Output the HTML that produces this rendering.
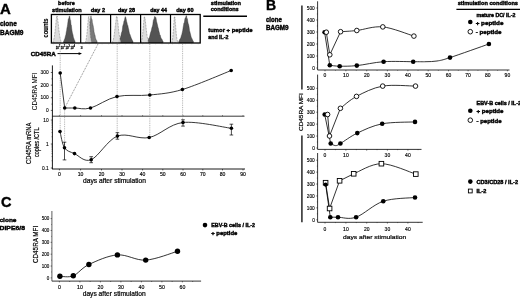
<!DOCTYPE html>
<html><head><meta charset="utf-8"><style>
html,body{margin:0;padding:0;background:#fff;}
svg{display:block;font-family:"Liberation Sans", sans-serif;filter:grayscale(1);}
</style></head><body>
<svg width="520" height="298" viewBox="0 0 520 298" font-family='"Liberation Sans", sans-serif'>
<rect width="520" height="298" fill="#fff"/>
<text x="0.00" y="14.00" font-size="15.2" font-weight="bold" textLength="10.80" lengthAdjust="spacingAndGlyphs" fill="#000" stroke="#000" stroke-width="0.4">A</text>
<text x="0.00" y="26.20" font-size="6.5" font-weight="bold" textLength="16.80" lengthAdjust="spacingAndGlyphs" fill="#000" stroke="#000" stroke-width="0.4">clone</text>
<text x="0.00" y="34.60" font-size="6.5" font-weight="bold" textLength="23.50" lengthAdjust="spacingAndGlyphs" fill="#000" stroke="#000" stroke-width="0.4">BAGM9</text>
<text x="48.20" y="37.40" font-size="7.2" font-weight="bold" textLength="19.00" lengthAdjust="spacingAndGlyphs" transform="rotate(-90 48.20 37.40)" fill="#000" stroke="#000" stroke-width="0.15">counts</text>
<text x="58.10" y="5.40" font-size="6.0" font-weight="bold" textLength="16.70" lengthAdjust="spacingAndGlyphs" fill="#000" stroke="#000" stroke-width="0.4">before</text>
<text x="52.10" y="11.90" font-size="6.0" font-weight="bold" textLength="29.60" lengthAdjust="spacingAndGlyphs" fill="#000" stroke="#000" stroke-width="0.4">stimulation</text>
<text x="90.80" y="11.70" font-size="5.6" font-weight="bold" textLength="14.20" lengthAdjust="spacingAndGlyphs" fill="#000" stroke="#000" stroke-width="0.4">day 2</text>
<text x="118.00" y="11.70" font-size="5.6" font-weight="bold" textLength="17.00" lengthAdjust="spacingAndGlyphs" fill="#000" stroke="#000" stroke-width="0.4">day 28</text>
<text x="150.30" y="11.70" font-size="5.6" font-weight="bold" textLength="16.60" lengthAdjust="spacingAndGlyphs" fill="#000" stroke="#000" stroke-width="0.4">day 44</text>
<text x="176.20" y="11.70" font-size="5.6" font-weight="bold" textLength="17.40" lengthAdjust="spacingAndGlyphs" fill="#000" stroke="#000" stroke-width="0.4">day 60</text>
<text x="210.80" y="4.60" font-size="6.0" font-weight="bold" textLength="30.20" lengthAdjust="spacingAndGlyphs" fill="#000" stroke="#000" stroke-width="0.4">stimulation</text>
<text x="210.80" y="11.40" font-size="6.0" font-weight="bold" textLength="27.90" lengthAdjust="spacingAndGlyphs" fill="#000" stroke="#000" stroke-width="0.4">conditions</text>
<line x1="203.30" y1="16.30" x2="247.00" y2="16.30" stroke="#000" stroke-width="1.4"/>
<text x="208.30" y="32.40" font-size="6.0" font-weight="bold" textLength="44.30" lengthAdjust="spacingAndGlyphs" fill="#000" stroke="#000" stroke-width="0.4">tumor + peptide</text>
<text x="208.30" y="38.90" font-size="6.0" font-weight="bold" textLength="20.20" lengthAdjust="spacingAndGlyphs" fill="#000" stroke="#000" stroke-width="0.4">and IL-2</text>
<clipPath id="hc0"><rect x="51.40" y="14.5" width="29.30" height="28.5"/></clipPath>
<g clip-path="url(#hc0)">
<path d="M63.58,43.00 L63.58,41.15 L63.92,40.72 L64.25,40.19 L64.59,38.86 L64.93,38.47 L65.26,36.72 L65.60,35.54 L65.94,34.42 L66.27,31.94 L66.61,30.84 L66.94,28.04 L67.28,26.67 L67.62,24.53 L67.95,21.73 L68.29,18.88 L68.63,19.06 L68.96,17.70 L69.30,16.17 L69.64,15.84 L69.97,17.92 L70.31,19.93 L70.65,20.44 L70.98,24.62 L71.32,25.01 L71.66,28.33 L71.99,30.64 L72.33,32.59 L72.66,34.04 L73.00,34.91 L73.34,37.17 L73.67,37.89 L74.01,38.88 L74.35,39.99 L74.68,40.54 L75.02,41.15 L75.02,43.00 Z" stroke="#333" stroke-width="0.4" fill="#545454"/>
<path d="M53.23,43.00 L53.23,41.11 L53.42,40.79 L53.62,40.21 L53.81,39.43 L54.01,38.32 L54.20,37.47 L54.40,36.40 L54.59,34.90 L54.79,33.55 L54.98,32.08 L55.18,29.89 L55.38,28.13 L55.57,26.71 L55.77,24.40 L55.96,22.55 L56.16,20.29 L56.35,18.82 L56.55,18.01 L56.74,15.99 L56.94,16.59 L57.13,16.29 L57.33,16.51 L57.52,18.39 L57.71,19.28 L57.91,21.41 L58.10,22.32 L58.30,24.00 L58.49,26.03 L58.69,27.52 L58.88,29.83 L59.08,31.12 L59.27,32.77 L59.47,34.22 L59.66,35.61 L59.86,36.50 L60.05,37.48 L60.25,38.67 L60.45,39.35 L60.64,40.29 L60.84,40.56 L61.03,41.11 L61.03,43.00 Z" stroke="#444" stroke-width="0.6" fill="#d8d8d8" fill-opacity="0.9" stroke-dasharray="0.6,0.9"/>
</g>
<clipPath id="hc1"><rect x="80.70" y="14.5" width="29.90" height="28.5"/></clipPath>
<g clip-path="url(#hc1)">
<path d="M87.68,43.00 L87.68,41.14 L87.96,40.10 L88.23,38.49 L88.51,36.97 L88.78,35.59 L89.06,32.97 L89.33,29.59 L89.61,27.69 L89.88,23.55 L90.16,21.21 L90.43,18.89 L90.71,17.59 L90.98,15.75 L91.26,17.98 L91.53,18.56 L91.81,19.35 L92.08,19.53 L92.36,22.87 L92.64,23.58 L92.91,24.98 L93.19,25.94 L93.46,27.72 L93.74,29.23 L94.01,31.77 L94.29,32.93 L94.56,34.31 L94.84,34.76 L95.11,35.79 L95.39,37.77 L95.66,38.58 L95.94,39.26 L96.21,39.90 L96.49,40.24 L96.76,40.65 L97.04,41.14 L97.04,43.00 Z" stroke="#333" stroke-width="0.4" fill="#7a7a7a"/>
<path d="M85.68,43.00 L85.68,41.11 L85.82,40.76 L85.97,40.37 L86.11,39.57 L86.25,38.88 L86.39,37.95 L86.54,36.75 L86.68,35.86 L86.82,34.80 L86.97,33.41 L87.11,31.94 L87.25,31.00 L87.40,28.56 L87.54,26.99 L87.68,25.16 L87.82,23.51 L87.97,22.31 L88.11,20.70 L88.25,19.63 L88.40,17.65 L88.54,17.42 L88.68,16.73 L88.83,16.33 L88.97,16.96 L89.11,17.83 L89.25,19.70 L89.40,21.52 L89.54,23.26 L89.68,25.34 L89.83,27.10 L89.97,29.44 L90.11,30.54 L90.26,32.58 L90.40,34.58 L90.54,35.94 L90.68,37.15 L90.83,38.24 L90.97,39.31 L91.11,39.74 L91.26,40.36 L91.40,41.11 L91.40,43.00 Z" stroke="#444" stroke-width="0.6" fill="#d8d8d8" fill-opacity="0.9" stroke-dasharray="0.6,0.9"/>
</g>
<clipPath id="hc2"><rect x="110.60" y="14.5" width="30.00" height="28.5"/></clipPath>
<g clip-path="url(#hc2)">
<path d="M118.44,43.00 L118.44,41.24 L118.87,40.68 L119.30,39.93 L119.72,39.43 L120.15,38.36 L120.58,36.78 L121.01,35.39 L121.44,32.77 L121.87,31.96 L122.29,30.19 L122.72,26.15 L123.15,24.82 L123.58,23.58 L124.01,20.72 L124.44,20.43 L124.86,18.08 L125.29,16.58 L125.72,17.45 L126.15,18.93 L126.58,21.41 L127.00,22.79 L127.43,25.04 L127.86,25.62 L128.29,28.05 L128.72,29.46 L129.15,32.06 L129.57,33.87 L130.00,34.47 L130.43,35.64 L130.86,37.05 L131.29,38.17 L131.72,39.07 L132.14,39.92 L132.57,40.95 L133.00,41.24 L133.00,43.00 Z" stroke="#333" stroke-width="0.4" fill="#545454"/>
<path d="M112.64,43.00 L112.64,41.14 L112.84,40.67 L113.04,40.20 L113.24,39.72 L113.45,38.98 L113.65,37.97 L113.85,36.98 L114.05,35.53 L114.25,34.03 L114.45,33.03 L114.66,31.06 L114.86,29.35 L115.06,27.63 L115.26,26.49 L115.46,24.88 L115.66,23.13 L115.86,21.51 L116.07,19.98 L116.27,18.11 L116.47,16.68 L116.67,16.09 L116.87,16.49 L117.07,16.85 L117.27,17.71 L117.48,20.05 L117.68,20.92 L117.88,22.42 L118.08,24.47 L118.28,26.42 L118.48,28.60 L118.69,30.69 L118.89,31.83 L119.09,33.80 L119.29,34.87 L119.49,36.05 L119.69,37.57 L119.89,38.55 L120.10,39.10 L120.30,39.95 L120.50,40.79 L120.70,41.14 L120.70,43.00 Z" stroke="#444" stroke-width="0.6" fill="#d8d8d8" fill-opacity="0.9" stroke-dasharray="0.6,0.9"/>
</g>
<clipPath id="hc3"><rect x="140.60" y="14.5" width="29.90" height="28.5"/></clipPath>
<g clip-path="url(#hc3)">
<path d="M147.20,43.00 L147.20,41.20 L147.67,40.93 L148.13,40.25 L148.60,38.67 L149.07,37.69 L149.53,37.27 L150.00,34.94 L150.47,33.05 L150.93,31.73 L151.40,30.32 L151.86,27.87 L152.33,26.62 L152.80,24.81 L153.26,20.59 L153.73,19.54 L154.20,18.39 L154.66,16.36 L155.13,17.42 L155.60,16.96 L156.06,18.29 L156.53,21.39 L157.00,23.10 L157.46,24.98 L157.93,27.13 L158.40,28.48 L158.86,31.06 L159.33,32.61 L159.79,34.73 L160.26,35.13 L160.73,37.22 L161.19,38.23 L161.66,39.08 L162.13,39.62 L162.59,40.72 L163.06,41.20 L163.06,43.00 Z" stroke="#333" stroke-width="0.4" fill="#545454"/>
<path d="M141.38,43.00 L141.38,41.16 L141.56,40.44 L141.73,39.95 L141.91,39.14 L142.08,38.18 L142.26,37.39 L142.43,35.81 L142.61,34.54 L142.78,33.07 L142.96,30.54 L143.13,29.22 L143.31,26.89 L143.49,24.55 L143.66,22.72 L143.84,21.11 L144.01,19.17 L144.19,17.74 L144.36,16.50 L144.54,17.17 L144.71,16.95 L144.89,18.16 L145.07,19.19 L145.24,19.82 L145.42,21.61 L145.59,23.11 L145.77,24.51 L145.94,26.00 L146.12,28.15 L146.29,29.57 L146.47,31.19 L146.65,32.62 L146.82,33.81 L147.00,35.23 L147.17,36.29 L147.35,37.32 L147.52,37.93 L147.70,38.87 L147.87,39.46 L148.05,40.04 L148.22,40.83 L148.40,41.16 L148.40,43.00 Z" stroke="#444" stroke-width="0.6" fill="#d8d8d8" fill-opacity="0.9" stroke-dasharray="0.6,0.9"/>
</g>
<clipPath id="hc4"><rect x="170.50" y="14.5" width="29.70" height="28.5"/></clipPath>
<g clip-path="url(#hc4)">
<path d="M178.82,43.00 L178.82,41.16 L179.25,40.54 L179.68,39.49 L180.10,38.69 L180.53,38.41 L180.96,37.27 L181.39,35.46 L181.82,34.43 L182.25,32.43 L182.67,30.82 L183.10,27.64 L183.53,25.23 L183.96,22.81 L184.39,22.44 L184.82,19.24 L185.24,17.81 L185.67,18.01 L186.10,15.60 L186.53,15.88 L186.96,18.92 L187.38,18.67 L187.81,21.87 L188.24,23.72 L188.67,24.80 L189.10,27.32 L189.53,30.66 L189.95,32.11 L190.38,33.75 L190.81,35.60 L191.24,37.17 L191.67,38.21 L192.10,38.81 L192.52,40.32 L192.95,40.55 L193.38,41.16 L193.38,43.00 Z" stroke="#333" stroke-width="0.4" fill="#545454"/>
<path d="M172.00,43.00 L172.00,41.15 L172.14,40.67 L172.27,40.27 L172.41,39.40 L172.55,38.38 L172.68,37.44 L172.82,36.59 L172.96,34.60 L173.09,33.26 L173.23,31.46 L173.37,30.53 L173.50,28.55 L173.64,26.90 L173.77,24.14 L173.91,22.86 L174.05,21.27 L174.18,19.31 L174.32,17.33 L174.46,16.49 L174.59,16.84 L174.73,17.30 L174.87,17.01 L175.00,18.60 L175.14,19.79 L175.28,22.11 L175.41,23.79 L175.55,24.77 L175.69,26.82 L175.82,28.91 L175.96,29.72 L176.09,31.61 L176.23,32.96 L176.37,34.91 L176.50,35.57 L176.64,37.23 L176.78,37.70 L176.91,38.81 L177.05,39.60 L177.19,40.14 L177.32,40.52 L177.46,41.15 L177.46,43.00 Z" stroke="#444" stroke-width="0.6" fill="#d8d8d8" fill-opacity="0.9" stroke-dasharray="0.6,0.9"/>
</g>
<rect x="51.40" y="14.5" width="148.80" height="28.5" fill="none" stroke="#000" stroke-width="1.3"/>
<line x1="80.70" y1="14.50" x2="80.70" y2="43.00" stroke="#000" stroke-width="1.2"/>
<line x1="110.60" y1="14.50" x2="110.60" y2="43.00" stroke="#000" stroke-width="1.2"/>
<line x1="140.60" y1="14.50" x2="140.60" y2="43.00" stroke="#000" stroke-width="1.2"/>
<line x1="170.50" y1="14.50" x2="170.50" y2="43.00" stroke="#000" stroke-width="1.2"/>
<line x1="53.40" y1="43.00" x2="53.40" y2="44.20" stroke="#555" stroke-width="0.5"/>
<line x1="59.73" y1="43.00" x2="59.73" y2="44.20" stroke="#555" stroke-width="0.5"/>
<line x1="66.05" y1="43.00" x2="66.05" y2="44.20" stroke="#555" stroke-width="0.5"/>
<line x1="72.38" y1="43.00" x2="72.38" y2="44.20" stroke="#555" stroke-width="0.5"/>
<line x1="78.70" y1="43.00" x2="78.70" y2="44.20" stroke="#555" stroke-width="0.5"/>
<line x1="82.70" y1="43.00" x2="82.70" y2="44.20" stroke="#555" stroke-width="0.5"/>
<line x1="89.17" y1="43.00" x2="89.17" y2="44.20" stroke="#555" stroke-width="0.5"/>
<line x1="95.65" y1="43.00" x2="95.65" y2="44.20" stroke="#555" stroke-width="0.5"/>
<line x1="102.12" y1="43.00" x2="102.12" y2="44.20" stroke="#555" stroke-width="0.5"/>
<line x1="108.60" y1="43.00" x2="108.60" y2="44.20" stroke="#555" stroke-width="0.5"/>
<line x1="112.60" y1="43.00" x2="112.60" y2="44.20" stroke="#555" stroke-width="0.5"/>
<line x1="119.10" y1="43.00" x2="119.10" y2="44.20" stroke="#555" stroke-width="0.5"/>
<line x1="125.60" y1="43.00" x2="125.60" y2="44.20" stroke="#555" stroke-width="0.5"/>
<line x1="132.10" y1="43.00" x2="132.10" y2="44.20" stroke="#555" stroke-width="0.5"/>
<line x1="138.60" y1="43.00" x2="138.60" y2="44.20" stroke="#555" stroke-width="0.5"/>
<line x1="142.60" y1="43.00" x2="142.60" y2="44.20" stroke="#555" stroke-width="0.5"/>
<line x1="149.07" y1="43.00" x2="149.07" y2="44.20" stroke="#555" stroke-width="0.5"/>
<line x1="155.55" y1="43.00" x2="155.55" y2="44.20" stroke="#555" stroke-width="0.5"/>
<line x1="162.03" y1="43.00" x2="162.03" y2="44.20" stroke="#555" stroke-width="0.5"/>
<line x1="168.50" y1="43.00" x2="168.50" y2="44.20" stroke="#555" stroke-width="0.5"/>
<line x1="172.50" y1="43.00" x2="172.50" y2="44.20" stroke="#555" stroke-width="0.5"/>
<line x1="178.93" y1="43.00" x2="178.93" y2="44.20" stroke="#555" stroke-width="0.5"/>
<line x1="185.35" y1="43.00" x2="185.35" y2="44.20" stroke="#555" stroke-width="0.5"/>
<line x1="191.77" y1="43.00" x2="191.77" y2="44.20" stroke="#555" stroke-width="0.5"/>
<line x1="198.20" y1="43.00" x2="198.20" y2="44.20" stroke="#555" stroke-width="0.5"/>
<text x="55.80" y="49.00" font-size="3.6" textLength="3.00" lengthAdjust="spacingAndGlyphs" fill="#000" stroke="#000" stroke-width="0.3">10</text>
<text x="58.80" y="47.30" font-size="2.6" fill="#000" stroke="#000" stroke-width="0.2">1</text>
<text x="60.70" y="49.00" font-size="3.6" textLength="3.00" lengthAdjust="spacingAndGlyphs" fill="#000" stroke="#000" stroke-width="0.3">10</text>
<text x="63.70" y="47.30" font-size="2.6" fill="#000" stroke="#000" stroke-width="0.2">2</text>
<text x="65.50" y="49.00" font-size="3.6" textLength="3.00" lengthAdjust="spacingAndGlyphs" fill="#000" stroke="#000" stroke-width="0.3">10</text>
<text x="68.50" y="47.30" font-size="2.6" fill="#000" stroke="#000" stroke-width="0.2">3</text>
<text x="70.40" y="49.00" font-size="3.6" textLength="3.00" lengthAdjust="spacingAndGlyphs" fill="#000" stroke="#000" stroke-width="0.3">10</text>
<text x="73.40" y="47.30" font-size="2.6" fill="#000" stroke="#000" stroke-width="0.2">4</text>
<text x="80.40" y="49.00" font-size="3.0" textLength="2.40" lengthAdjust="spacingAndGlyphs" fill="#000" stroke="#000" stroke-width="0.2">10</text>
<text x="30.80" y="56.00" font-size="6.0" font-weight="bold" textLength="24.90" lengthAdjust="spacingAndGlyphs" fill="#000" stroke="#000" stroke-width="0.4">CD45RA</text>
<line x1="57.50" y1="53.60" x2="80.50" y2="53.60" stroke="#000" stroke-width="1.0"/>
<path d="M82,53.6 L78.6,52.2 L78.6,55.0 Z" stroke="#000" stroke-width="0" fill="#000"/>
<line x1="52.40" y1="65.40" x2="52.40" y2="116.40" stroke="#000" stroke-width="0.9"/>
<line x1="52.00" y1="116.20" x2="244.50" y2="116.20" stroke="#222" stroke-width="0.9"/>
<line x1="50.80" y1="72.51" x2="52.40" y2="72.51" stroke="#000" stroke-width="0.6"/>
<text x="48.60" y="74.21" font-size="4.8" text-anchor="end" fill="#000" stroke="#000" stroke-width="0.12">300</text>
<line x1="50.80" y1="85.14" x2="52.40" y2="85.14" stroke="#000" stroke-width="0.6"/>
<text x="48.60" y="86.84" font-size="4.8" text-anchor="end" fill="#000" stroke="#000" stroke-width="0.12">200</text>
<line x1="50.80" y1="97.77" x2="52.40" y2="97.77" stroke="#000" stroke-width="0.6"/>
<text x="48.60" y="99.47" font-size="4.8" text-anchor="end" fill="#000" stroke="#000" stroke-width="0.12">100</text>
<line x1="50.80" y1="110.40" x2="52.40" y2="110.40" stroke="#000" stroke-width="0.6"/>
<text x="48.60" y="112.10" font-size="4.8" text-anchor="end" fill="#000" stroke="#000" stroke-width="0.12">0</text>
<line x1="51.40" y1="104.09" x2="52.40" y2="104.09" stroke="#000" stroke-width="0.5"/>
<line x1="51.40" y1="91.46" x2="52.40" y2="91.46" stroke="#000" stroke-width="0.5"/>
<line x1="51.40" y1="78.83" x2="52.40" y2="78.83" stroke="#000" stroke-width="0.5"/>
<text x="37.20" y="110.20" font-size="6.3" textLength="37.70" lengthAdjust="spacingAndGlyphs" transform="rotate(-90 37.20 110.20)" fill="#000" stroke="#000" stroke-width="0.05">CD45RA MFI</text>
<line x1="59.40" y1="115.20" x2="59.40" y2="116.20" stroke="#000" stroke-width="0.5"/>
<line x1="80.60" y1="115.20" x2="80.60" y2="116.20" stroke="#000" stroke-width="0.5"/>
<line x1="101.50" y1="115.20" x2="101.50" y2="116.20" stroke="#000" stroke-width="0.5"/>
<line x1="122.00" y1="115.20" x2="122.00" y2="116.20" stroke="#000" stroke-width="0.5"/>
<line x1="142.60" y1="115.20" x2="142.60" y2="116.20" stroke="#000" stroke-width="0.5"/>
<line x1="162.80" y1="115.20" x2="162.80" y2="116.20" stroke="#000" stroke-width="0.5"/>
<line x1="183.00" y1="115.20" x2="183.00" y2="116.20" stroke="#000" stroke-width="0.5"/>
<line x1="202.80" y1="115.20" x2="202.80" y2="116.20" stroke="#000" stroke-width="0.5"/>
<line x1="222.50" y1="115.20" x2="222.50" y2="116.20" stroke="#000" stroke-width="0.5"/>
<line x1="243.00" y1="115.20" x2="243.00" y2="116.20" stroke="#000" stroke-width="0.5"/>
<line x1="60.20" y1="44.00" x2="60.20" y2="131.50" stroke="#777" stroke-width="0.6" stroke-dasharray="0.9,0.9"/>
<line x1="64.60" y1="108.00" x2="64.60" y2="147.80" stroke="#777" stroke-width="0.6" stroke-dasharray="0.9,0.9"/>
<line x1="98.00" y1="44.00" x2="64.70" y2="108.00" stroke="#333" stroke-width="0.6" stroke-dasharray="0.9,0.9"/>
<line x1="117.20" y1="44.00" x2="117.20" y2="136.10" stroke="#777" stroke-width="0.6" stroke-dasharray="0.9,0.9"/>
<line x1="149.80" y1="44.00" x2="149.80" y2="137.50" stroke="#777" stroke-width="0.6" stroke-dasharray="0.9,0.9"/>
<line x1="182.60" y1="44.00" x2="182.60" y2="122.50" stroke="#777" stroke-width="0.6" stroke-dasharray="0.9,0.9"/>
<path d="M60.2,73.0 L64.7,108 L64.70,108.00 C66.38,108.00 70.50,108.00 74.80,108.00 C79.10,108.00 83.47,109.92 90.50,108.00 C97.53,106.08 107.12,98.67 117.00,96.50 C126.88,94.33 138.90,96.17 149.80,95.00 C160.70,93.83 168.83,93.58 182.40,89.50 C195.97,85.42 223.07,73.67 231.20,70.50" stroke="#222" stroke-width="0.9" fill="none"/>
<circle cx="60.20" cy="73.00" r="1.8" fill="#000"/>
<circle cx="64.70" cy="108.00" r="1.8" fill="#000"/>
<circle cx="74.80" cy="108.00" r="1.8" fill="#000"/>
<circle cx="90.50" cy="108.00" r="1.8" fill="#000"/>
<circle cx="117.00" cy="96.50" r="1.8" fill="#000"/>
<circle cx="149.80" cy="95.00" r="1.8" fill="#000"/>
<circle cx="182.40" cy="89.50" r="1.8" fill="#000"/>
<circle cx="231.20" cy="70.50" r="1.8" fill="#000"/>
<line x1="52.40" y1="116.20" x2="52.40" y2="169.00" stroke="#000" stroke-width="0.9"/>
<line x1="52.00" y1="169.00" x2="245.00" y2="169.00" stroke="#000" stroke-width="0.9"/>
<line x1="50.80" y1="120.00" x2="52.40" y2="120.00" stroke="#000" stroke-width="0.6"/>
<text x="48.60" y="121.70" font-size="4.8" text-anchor="end" fill="#000" stroke="#000" stroke-width="0.12">10</text>
<line x1="50.80" y1="144.00" x2="52.40" y2="144.00" stroke="#000" stroke-width="0.6"/>
<text x="48.60" y="145.70" font-size="4.8" text-anchor="end" fill="#000" stroke="#000" stroke-width="0.12">1</text>
<line x1="50.80" y1="168.00" x2="52.40" y2="168.00" stroke="#000" stroke-width="0.6"/>
<text x="48.60" y="169.70" font-size="4.8" text-anchor="end" fill="#000" stroke="#000" stroke-width="0.12">0.1</text>
<line x1="51.50" y1="160.78" x2="52.40" y2="160.78" stroke="#000" stroke-width="0.4"/>
<line x1="51.50" y1="156.55" x2="52.40" y2="156.55" stroke="#000" stroke-width="0.4"/>
<line x1="51.50" y1="153.55" x2="52.40" y2="153.55" stroke="#000" stroke-width="0.4"/>
<line x1="51.50" y1="151.22" x2="52.40" y2="151.22" stroke="#000" stroke-width="0.4"/>
<line x1="51.50" y1="149.32" x2="52.40" y2="149.32" stroke="#000" stroke-width="0.4"/>
<line x1="51.50" y1="147.72" x2="52.40" y2="147.72" stroke="#000" stroke-width="0.4"/>
<line x1="51.50" y1="146.33" x2="52.40" y2="146.33" stroke="#000" stroke-width="0.4"/>
<line x1="51.50" y1="145.10" x2="52.40" y2="145.10" stroke="#000" stroke-width="0.4"/>
<line x1="51.50" y1="136.78" x2="52.40" y2="136.78" stroke="#000" stroke-width="0.4"/>
<line x1="51.50" y1="132.55" x2="52.40" y2="132.55" stroke="#000" stroke-width="0.4"/>
<line x1="51.50" y1="129.55" x2="52.40" y2="129.55" stroke="#000" stroke-width="0.4"/>
<line x1="51.50" y1="127.22" x2="52.40" y2="127.22" stroke="#000" stroke-width="0.4"/>
<line x1="51.50" y1="125.32" x2="52.40" y2="125.32" stroke="#000" stroke-width="0.4"/>
<line x1="51.50" y1="123.72" x2="52.40" y2="123.72" stroke="#000" stroke-width="0.4"/>
<line x1="51.50" y1="122.33" x2="52.40" y2="122.33" stroke="#000" stroke-width="0.4"/>
<line x1="51.50" y1="121.10" x2="52.40" y2="121.10" stroke="#000" stroke-width="0.4"/>
<text x="30.80" y="164.00" font-size="6.4" textLength="41.30" lengthAdjust="spacingAndGlyphs" transform="rotate(-90 30.80 164.00)" fill="#000" stroke="#000" stroke-width="0.2">CD45RA mRNA</text>
<text x="39.00" y="157.00" font-size="6.4" textLength="29.50" lengthAdjust="spacingAndGlyphs" transform="rotate(-90 39.00 157.00)" fill="#000" stroke="#000" stroke-width="0.2">copies /CTL</text>
<path d="M60.00,131.50 C60.75,134.22 62.08,144.12 64.50,147.80 C66.92,151.48 70.05,151.62 74.50,153.60 C78.95,155.58 84.05,162.62 91.20,159.70 C98.35,156.78 107.73,139.80 117.40,136.10 C127.07,132.40 138.27,139.77 149.20,137.50 C160.13,135.23 169.30,124.03 183.00,122.50 C196.70,120.97 223.33,127.33 231.40,128.30" stroke="#222" stroke-width="0.9" fill="none"/>
<line x1="64.50" y1="142.20" x2="64.50" y2="159.90" stroke="#000" stroke-width="0.7"/>
<line x1="62.70" y1="142.20" x2="66.30" y2="142.20" stroke="#000" stroke-width="0.7"/>
<line x1="62.70" y1="159.90" x2="66.30" y2="159.90" stroke="#000" stroke-width="0.7"/>
<line x1="91.20" y1="156.70" x2="91.20" y2="162.70" stroke="#000" stroke-width="0.7"/>
<line x1="89.40" y1="156.70" x2="93.00" y2="156.70" stroke="#000" stroke-width="0.7"/>
<line x1="89.40" y1="162.70" x2="93.00" y2="162.70" stroke="#000" stroke-width="0.7"/>
<line x1="117.40" y1="132.70" x2="117.40" y2="139.20" stroke="#000" stroke-width="0.7"/>
<line x1="115.60" y1="132.70" x2="119.20" y2="132.70" stroke="#000" stroke-width="0.7"/>
<line x1="115.60" y1="139.20" x2="119.20" y2="139.20" stroke="#000" stroke-width="0.7"/>
<line x1="183.00" y1="119.80" x2="183.00" y2="126.10" stroke="#000" stroke-width="0.7"/>
<line x1="181.20" y1="119.80" x2="184.80" y2="119.80" stroke="#000" stroke-width="0.7"/>
<line x1="181.20" y1="126.10" x2="184.80" y2="126.10" stroke="#000" stroke-width="0.7"/>
<line x1="231.40" y1="124.20" x2="231.40" y2="135.00" stroke="#000" stroke-width="0.7"/>
<line x1="229.60" y1="124.20" x2="233.20" y2="124.20" stroke="#000" stroke-width="0.7"/>
<line x1="229.60" y1="135.00" x2="233.20" y2="135.00" stroke="#000" stroke-width="0.7"/>
<circle cx="60.00" cy="131.50" r="1.8" fill="#000"/>
<circle cx="64.50" cy="147.80" r="1.8" fill="#000"/>
<circle cx="74.50" cy="153.60" r="1.8" fill="#000"/>
<circle cx="91.20" cy="159.70" r="1.8" fill="#000"/>
<circle cx="117.40" cy="136.10" r="1.8" fill="#000"/>
<circle cx="149.20" cy="137.50" r="1.8" fill="#000"/>
<circle cx="183.00" cy="122.50" r="1.8" fill="#000"/>
<circle cx="231.40" cy="128.30" r="1.8" fill="#000"/>
<line x1="59.40" y1="169.00" x2="59.40" y2="170.40" stroke="#000" stroke-width="0.6"/>
<text x="59.40" y="175.80" font-size="5.1" text-anchor="middle" fill="#000" stroke="#000" stroke-width="0.15">0</text>
<line x1="80.60" y1="169.00" x2="80.60" y2="170.40" stroke="#000" stroke-width="0.6"/>
<text x="80.60" y="175.80" font-size="5.1" text-anchor="middle" fill="#000" stroke="#000" stroke-width="0.15">10</text>
<line x1="101.50" y1="169.00" x2="101.50" y2="170.40" stroke="#000" stroke-width="0.6"/>
<text x="101.50" y="175.80" font-size="5.1" text-anchor="middle" fill="#000" stroke="#000" stroke-width="0.15">20</text>
<line x1="122.00" y1="169.00" x2="122.00" y2="170.40" stroke="#000" stroke-width="0.6"/>
<text x="122.00" y="175.80" font-size="5.1" text-anchor="middle" fill="#000" stroke="#000" stroke-width="0.15">30</text>
<line x1="142.60" y1="169.00" x2="142.60" y2="170.40" stroke="#000" stroke-width="0.6"/>
<text x="142.60" y="175.80" font-size="5.1" text-anchor="middle" fill="#000" stroke="#000" stroke-width="0.15">40</text>
<line x1="162.80" y1="169.00" x2="162.80" y2="170.40" stroke="#000" stroke-width="0.6"/>
<text x="162.80" y="175.80" font-size="5.1" text-anchor="middle" fill="#000" stroke="#000" stroke-width="0.15">50</text>
<line x1="183.00" y1="169.00" x2="183.00" y2="170.40" stroke="#000" stroke-width="0.6"/>
<text x="183.00" y="175.80" font-size="5.1" text-anchor="middle" fill="#000" stroke="#000" stroke-width="0.15">60</text>
<line x1="202.80" y1="169.00" x2="202.80" y2="170.40" stroke="#000" stroke-width="0.6"/>
<text x="202.80" y="175.80" font-size="5.1" text-anchor="middle" fill="#000" stroke="#000" stroke-width="0.15">70</text>
<line x1="222.50" y1="169.00" x2="222.50" y2="170.40" stroke="#000" stroke-width="0.6"/>
<text x="222.50" y="175.80" font-size="5.1" text-anchor="middle" fill="#000" stroke="#000" stroke-width="0.15">80</text>
<line x1="243.00" y1="169.00" x2="243.00" y2="170.40" stroke="#000" stroke-width="0.6"/>
<text x="243.00" y="175.80" font-size="5.1" text-anchor="middle" fill="#000" stroke="#000" stroke-width="0.15">90</text>
<text x="83.00" y="183.10" font-size="6.4" textLength="63.00" lengthAdjust="spacingAndGlyphs" fill="#000" stroke="#000" stroke-width="0.2">days after stimulation</text>
<text x="265.90" y="10.20" font-size="13.8" font-weight="bold" textLength="10.10" lengthAdjust="spacingAndGlyphs" fill="#000" stroke="#000" stroke-width="0.4">B</text>
<text x="265.90" y="21.50" font-size="6.3" font-weight="bold" textLength="15.90" lengthAdjust="spacingAndGlyphs" fill="#000" stroke="#000" stroke-width="0.4">clone</text>
<text x="265.90" y="30.20" font-size="6.3" font-weight="bold" textLength="22.70" lengthAdjust="spacingAndGlyphs" fill="#000" stroke="#000" stroke-width="0.4">BAGM9</text>
<line x1="301.90" y1="5.40" x2="301.90" y2="89.50" stroke="#333" stroke-width="1.6"/>
<line x1="301.90" y1="135.50" x2="301.90" y2="222.20" stroke="#333" stroke-width="1.6"/>
<text x="302.60" y="131.00" font-size="5.8" textLength="37.80" lengthAdjust="spacingAndGlyphs" transform="rotate(-90 302.60 131.00)" fill="#000" stroke="#000" stroke-width="0.2">CD45RA MFI</text>
<line x1="317.60" y1="1.30" x2="317.60" y2="70.00" stroke="#000" stroke-width="0.8"/>
<line x1="317.60" y1="70.00" x2="509.50" y2="70.00" stroke="#000" stroke-width="0.8"/>
<line x1="316.20" y1="68.00" x2="317.60" y2="68.00" stroke="#000" stroke-width="0.5"/>
<text x="314.80" y="69.70" font-size="4.8" text-anchor="end" fill="#000" stroke="#000" stroke-width="0.12">0</text>
<line x1="316.20" y1="56.00" x2="317.60" y2="56.00" stroke="#000" stroke-width="0.5"/>
<text x="314.80" y="57.70" font-size="4.8" text-anchor="end" fill="#000" stroke="#000" stroke-width="0.12">100</text>
<line x1="316.20" y1="44.00" x2="317.60" y2="44.00" stroke="#000" stroke-width="0.5"/>
<text x="314.80" y="45.70" font-size="4.8" text-anchor="end" fill="#000" stroke="#000" stroke-width="0.12">200</text>
<line x1="316.20" y1="32.00" x2="317.60" y2="32.00" stroke="#000" stroke-width="0.5"/>
<text x="314.80" y="33.70" font-size="4.8" text-anchor="end" fill="#000" stroke="#000" stroke-width="0.12">300</text>
<line x1="316.20" y1="20.00" x2="317.60" y2="20.00" stroke="#000" stroke-width="0.5"/>
<text x="314.80" y="21.70" font-size="4.8" text-anchor="end" fill="#000" stroke="#000" stroke-width="0.12">400</text>
<line x1="316.20" y1="8.00" x2="317.60" y2="8.00" stroke="#000" stroke-width="0.5"/>
<text x="314.80" y="9.70" font-size="4.8" text-anchor="end" fill="#000" stroke="#000" stroke-width="0.12">500</text>
<line x1="316.80" y1="62.00" x2="317.60" y2="62.00" stroke="#000" stroke-width="0.4"/>
<line x1="316.80" y1="50.00" x2="317.60" y2="50.00" stroke="#000" stroke-width="0.4"/>
<line x1="316.80" y1="38.00" x2="317.60" y2="38.00" stroke="#000" stroke-width="0.4"/>
<line x1="316.80" y1="26.00" x2="317.60" y2="26.00" stroke="#000" stroke-width="0.4"/>
<line x1="316.80" y1="14.00" x2="317.60" y2="14.00" stroke="#000" stroke-width="0.4"/>
<line x1="325.00" y1="70.00" x2="325.00" y2="71.30" stroke="#000" stroke-width="0.5"/>
<line x1="335.45" y1="70.00" x2="335.45" y2="70.80" stroke="#000" stroke-width="0.4"/>
<line x1="345.90" y1="70.00" x2="345.90" y2="71.30" stroke="#000" stroke-width="0.5"/>
<line x1="356.30" y1="70.00" x2="356.30" y2="70.80" stroke="#000" stroke-width="0.4"/>
<line x1="366.70" y1="70.00" x2="366.70" y2="71.30" stroke="#000" stroke-width="0.5"/>
<line x1="377.05" y1="70.00" x2="377.05" y2="70.80" stroke="#000" stroke-width="0.4"/>
<line x1="387.40" y1="70.00" x2="387.40" y2="71.30" stroke="#000" stroke-width="0.5"/>
<line x1="397.65" y1="70.00" x2="397.65" y2="70.80" stroke="#000" stroke-width="0.4"/>
<line x1="407.90" y1="70.00" x2="407.90" y2="71.30" stroke="#000" stroke-width="0.5"/>
<line x1="418.05" y1="70.00" x2="418.05" y2="70.80" stroke="#000" stroke-width="0.4"/>
<line x1="428.20" y1="70.00" x2="428.20" y2="71.30" stroke="#000" stroke-width="0.5"/>
<line x1="438.35" y1="70.00" x2="438.35" y2="70.80" stroke="#000" stroke-width="0.4"/>
<line x1="448.50" y1="70.00" x2="448.50" y2="71.30" stroke="#000" stroke-width="0.5"/>
<line x1="458.30" y1="70.00" x2="458.30" y2="70.80" stroke="#000" stroke-width="0.4"/>
<line x1="468.10" y1="70.00" x2="468.10" y2="71.30" stroke="#000" stroke-width="0.5"/>
<line x1="477.95" y1="70.00" x2="477.95" y2="70.80" stroke="#000" stroke-width="0.4"/>
<line x1="487.80" y1="70.00" x2="487.80" y2="71.30" stroke="#000" stroke-width="0.5"/>
<line x1="497.60" y1="70.00" x2="497.60" y2="70.80" stroke="#000" stroke-width="0.4"/>
<line x1="507.40" y1="70.00" x2="507.40" y2="71.30" stroke="#000" stroke-width="0.5"/>
<text x="325.00" y="76.60" font-size="5.0" text-anchor="middle" fill="#000" stroke="#000" stroke-width="0.15">0</text>
<text x="345.90" y="76.60" font-size="5.0" text-anchor="middle" fill="#000" stroke="#000" stroke-width="0.15">10</text>
<text x="366.70" y="76.60" font-size="5.0" text-anchor="middle" fill="#000" stroke="#000" stroke-width="0.15">20</text>
<text x="387.40" y="76.60" font-size="5.0" text-anchor="middle" fill="#000" stroke="#000" stroke-width="0.15">30</text>
<text x="407.90" y="76.60" font-size="5.0" text-anchor="middle" fill="#000" stroke="#000" stroke-width="0.15">40</text>
<text x="428.20" y="76.60" font-size="5.0" text-anchor="middle" fill="#000" stroke="#000" stroke-width="0.15">50</text>
<text x="448.50" y="76.60" font-size="5.0" text-anchor="middle" fill="#000" stroke="#000" stroke-width="0.15">60</text>
<text x="468.10" y="76.60" font-size="5.0" text-anchor="middle" fill="#000" stroke="#000" stroke-width="0.15">70</text>
<text x="487.80" y="76.60" font-size="5.0" text-anchor="middle" fill="#000" stroke="#000" stroke-width="0.15">80</text>
<text x="507.40" y="76.60" font-size="5.0" text-anchor="middle" fill="#000" stroke="#000" stroke-width="0.15">90</text>
<line x1="317.60" y1="74.60" x2="317.60" y2="149.40" stroke="#000" stroke-width="0.8"/>
<line x1="317.60" y1="149.40" x2="421.50" y2="149.40" stroke="#000" stroke-width="0.8"/>
<line x1="316.20" y1="148.00" x2="317.60" y2="148.00" stroke="#000" stroke-width="0.5"/>
<text x="314.80" y="149.70" font-size="4.8" text-anchor="end" fill="#000" stroke="#000" stroke-width="0.12">0</text>
<line x1="316.20" y1="136.06" x2="317.60" y2="136.06" stroke="#000" stroke-width="0.5"/>
<text x="314.80" y="137.76" font-size="4.8" text-anchor="end" fill="#000" stroke="#000" stroke-width="0.12">100</text>
<line x1="316.20" y1="124.12" x2="317.60" y2="124.12" stroke="#000" stroke-width="0.5"/>
<text x="314.80" y="125.82" font-size="4.8" text-anchor="end" fill="#000" stroke="#000" stroke-width="0.12">200</text>
<line x1="316.20" y1="112.18" x2="317.60" y2="112.18" stroke="#000" stroke-width="0.5"/>
<text x="314.80" y="113.88" font-size="4.8" text-anchor="end" fill="#000" stroke="#000" stroke-width="0.12">300</text>
<line x1="316.20" y1="100.24" x2="317.60" y2="100.24" stroke="#000" stroke-width="0.5"/>
<text x="314.80" y="101.94" font-size="4.8" text-anchor="end" fill="#000" stroke="#000" stroke-width="0.12">400</text>
<line x1="316.20" y1="88.30" x2="317.60" y2="88.30" stroke="#000" stroke-width="0.5"/>
<text x="314.80" y="90.00" font-size="4.8" text-anchor="end" fill="#000" stroke="#000" stroke-width="0.12">500</text>
<line x1="316.80" y1="142.03" x2="317.60" y2="142.03" stroke="#000" stroke-width="0.4"/>
<line x1="316.80" y1="130.09" x2="317.60" y2="130.09" stroke="#000" stroke-width="0.4"/>
<line x1="316.80" y1="118.15" x2="317.60" y2="118.15" stroke="#000" stroke-width="0.4"/>
<line x1="316.80" y1="106.21" x2="317.60" y2="106.21" stroke="#000" stroke-width="0.4"/>
<line x1="316.80" y1="94.27" x2="317.60" y2="94.27" stroke="#000" stroke-width="0.4"/>
<line x1="325.00" y1="149.40" x2="325.00" y2="150.70" stroke="#000" stroke-width="0.5"/>
<line x1="335.45" y1="149.40" x2="335.45" y2="150.20" stroke="#000" stroke-width="0.4"/>
<line x1="345.90" y1="149.40" x2="345.90" y2="150.70" stroke="#000" stroke-width="0.5"/>
<line x1="356.30" y1="149.40" x2="356.30" y2="150.20" stroke="#000" stroke-width="0.4"/>
<line x1="366.70" y1="149.40" x2="366.70" y2="150.70" stroke="#000" stroke-width="0.5"/>
<line x1="377.05" y1="149.40" x2="377.05" y2="150.20" stroke="#000" stroke-width="0.4"/>
<line x1="387.40" y1="149.40" x2="387.40" y2="150.70" stroke="#000" stroke-width="0.5"/>
<line x1="397.65" y1="149.40" x2="397.65" y2="150.20" stroke="#000" stroke-width="0.4"/>
<line x1="407.90" y1="149.40" x2="407.90" y2="150.70" stroke="#000" stroke-width="0.5"/>
<line x1="418.05" y1="149.40" x2="418.05" y2="150.20" stroke="#000" stroke-width="0.4"/>
<text x="325.00" y="157.00" font-size="5.0" text-anchor="middle" fill="#000" stroke="#000" stroke-width="0.15">0</text>
<text x="345.90" y="157.00" font-size="5.0" text-anchor="middle" fill="#000" stroke="#000" stroke-width="0.15">10</text>
<text x="387.40" y="157.00" font-size="5.0" text-anchor="middle" fill="#000" stroke="#000" stroke-width="0.15">30</text>
<text x="407.90" y="157.00" font-size="5.0" text-anchor="middle" fill="#000" stroke="#000" stroke-width="0.15">40</text>
<line x1="317.60" y1="153.00" x2="317.60" y2="222.30" stroke="#000" stroke-width="0.8"/>
<line x1="317.60" y1="222.30" x2="422.70" y2="222.30" stroke="#000" stroke-width="0.8"/>
<line x1="316.20" y1="219.80" x2="317.60" y2="219.80" stroke="#000" stroke-width="0.5"/>
<text x="314.80" y="221.50" font-size="4.8" text-anchor="end" fill="#000" stroke="#000" stroke-width="0.12">0</text>
<line x1="316.20" y1="207.88" x2="317.60" y2="207.88" stroke="#000" stroke-width="0.5"/>
<text x="314.80" y="209.58" font-size="4.8" text-anchor="end" fill="#000" stroke="#000" stroke-width="0.12">100</text>
<line x1="316.20" y1="195.96" x2="317.60" y2="195.96" stroke="#000" stroke-width="0.5"/>
<text x="314.80" y="197.66" font-size="4.8" text-anchor="end" fill="#000" stroke="#000" stroke-width="0.12">200</text>
<line x1="316.20" y1="184.04" x2="317.60" y2="184.04" stroke="#000" stroke-width="0.5"/>
<text x="314.80" y="185.74" font-size="4.8" text-anchor="end" fill="#000" stroke="#000" stroke-width="0.12">300</text>
<line x1="316.20" y1="172.12" x2="317.60" y2="172.12" stroke="#000" stroke-width="0.5"/>
<text x="314.80" y="173.82" font-size="4.8" text-anchor="end" fill="#000" stroke="#000" stroke-width="0.12">400</text>
<line x1="316.20" y1="160.20" x2="317.60" y2="160.20" stroke="#000" stroke-width="0.5"/>
<text x="314.80" y="161.90" font-size="4.8" text-anchor="end" fill="#000" stroke="#000" stroke-width="0.12">500</text>
<line x1="316.80" y1="213.84" x2="317.60" y2="213.84" stroke="#000" stroke-width="0.4"/>
<line x1="316.80" y1="201.92" x2="317.60" y2="201.92" stroke="#000" stroke-width="0.4"/>
<line x1="316.80" y1="190.00" x2="317.60" y2="190.00" stroke="#000" stroke-width="0.4"/>
<line x1="316.80" y1="178.08" x2="317.60" y2="178.08" stroke="#000" stroke-width="0.4"/>
<line x1="316.80" y1="166.16" x2="317.60" y2="166.16" stroke="#000" stroke-width="0.4"/>
<line x1="325.00" y1="222.30" x2="325.00" y2="223.60" stroke="#000" stroke-width="0.5"/>
<line x1="335.45" y1="222.30" x2="335.45" y2="223.10" stroke="#000" stroke-width="0.4"/>
<line x1="345.90" y1="222.30" x2="345.90" y2="223.60" stroke="#000" stroke-width="0.5"/>
<line x1="356.30" y1="222.30" x2="356.30" y2="223.10" stroke="#000" stroke-width="0.4"/>
<line x1="366.70" y1="222.30" x2="366.70" y2="223.60" stroke="#000" stroke-width="0.5"/>
<line x1="377.05" y1="222.30" x2="377.05" y2="223.10" stroke="#000" stroke-width="0.4"/>
<line x1="387.40" y1="222.30" x2="387.40" y2="223.60" stroke="#000" stroke-width="0.5"/>
<line x1="397.65" y1="222.30" x2="397.65" y2="223.10" stroke="#000" stroke-width="0.4"/>
<line x1="407.90" y1="222.30" x2="407.90" y2="223.60" stroke="#000" stroke-width="0.5"/>
<line x1="418.05" y1="222.30" x2="418.05" y2="223.10" stroke="#000" stroke-width="0.4"/>
<text x="325.00" y="230.50" font-size="5.0" text-anchor="middle" fill="#000" stroke="#000" stroke-width="0.15">0</text>
<text x="345.90" y="230.50" font-size="5.0" text-anchor="middle" fill="#000" stroke="#000" stroke-width="0.15">10</text>
<text x="366.70" y="230.50" font-size="5.0" text-anchor="middle" fill="#000" stroke="#000" stroke-width="0.15">20</text>
<text x="387.40" y="230.50" font-size="5.0" text-anchor="middle" fill="#000" stroke="#000" stroke-width="0.15">30</text>
<text x="407.90" y="230.50" font-size="5.0" text-anchor="middle" fill="#000" stroke="#000" stroke-width="0.15">40</text>
<text x="343.00" y="238.70" font-size="5.8" textLength="63.20" lengthAdjust="spacingAndGlyphs" fill="#000" stroke="#000" stroke-width="0.2">days after stimulation</text>
<path d="M326.30,32.20 L329.80,54.80 L340.60,31.70 C343.30,31.50 349.77,31.30 356.80,30.50 C363.83,29.70 373.28,25.97 382.80,26.90 C392.32,27.83 408.72,34.57 413.90,36.10" stroke="#000" stroke-width="0.8" fill="none"/>
<path d="M324.60,32.20 L329.80,65.30 C331.45,65.45 335.20,66.15 339.70,66.20 C344.20,66.25 349.48,66.35 356.80,65.60 C364.12,64.85 374.20,62.35 383.60,61.70 C393.00,61.05 406.13,61.70 413.20,61.70 C420.27,61.70 422.03,61.82 426.00,61.70 C429.97,61.58 433.00,61.68 437.00,61.00 C441.00,60.32 441.35,60.43 450.00,57.60 C458.65,54.77 482.42,46.27 488.90,44.00" stroke="#000" stroke-width="0.8" fill="none"/>
<circle cx="324.60" cy="32.20" r="2.3" fill="#000"/>
<circle cx="329.80" cy="65.30" r="2.3" fill="#000"/>
<circle cx="339.70" cy="66.20" r="2.3" fill="#000"/>
<circle cx="356.80" cy="65.60" r="2.3" fill="#000"/>
<circle cx="383.60" cy="61.70" r="2.3" fill="#000"/>
<circle cx="413.20" cy="61.70" r="2.3" fill="#000"/>
<circle cx="450.00" cy="57.60" r="2.3" fill="#000"/>
<circle cx="488.90" cy="44.00" r="2.3" fill="#000"/>
<circle cx="326.30" cy="32.20" r="2.3" fill="#fff" stroke="#000" stroke-width="0.9"/>
<circle cx="329.80" cy="54.80" r="2.3" fill="#fff" stroke="#000" stroke-width="0.9"/>
<circle cx="340.60" cy="31.70" r="2.3" fill="#fff" stroke="#000" stroke-width="0.9"/>
<circle cx="356.80" cy="30.50" r="2.3" fill="#fff" stroke="#000" stroke-width="0.9"/>
<circle cx="382.80" cy="26.90" r="2.3" fill="#fff" stroke="#000" stroke-width="0.9"/>
<circle cx="413.90" cy="36.10" r="2.3" fill="#fff" stroke="#000" stroke-width="0.9"/>
<text x="457.70" y="5.40" font-size="5.6" font-weight="bold" textLength="60.30" lengthAdjust="spacingAndGlyphs" fill="#000" stroke="#000" stroke-width="0.4">stimulation conditions</text>
<line x1="456.40" y1="9.40" x2="520.00" y2="9.40" stroke="#000" stroke-width="1.3"/>
<text x="476.50" y="17.40" font-size="5.4" font-weight="bold" textLength="38.90" lengthAdjust="spacingAndGlyphs" fill="#000" stroke="#000" stroke-width="0.4">mature DC/ IL-2</text>
<circle cx="470.30" cy="22.00" r="2.3" fill="#000"/>
<text x="475.70" y="24.60" font-size="5.6" font-weight="bold" textLength="27.70" lengthAdjust="spacingAndGlyphs" fill="#000" stroke="#000" stroke-width="0.4">+ peptide</text>
<circle cx="470.30" cy="31.70" r="2.3" fill="#fff" stroke="#000" stroke-width="0.9"/>
<text x="475.70" y="34.30" font-size="5.6" font-weight="bold" textLength="25.80" lengthAdjust="spacingAndGlyphs" fill="#000" stroke="#000" stroke-width="0.4">- peptide</text>
<path d="M327.60,114.50 L329.50,136.00 L340.40,108.30 C343.08,106.32 349.45,100.10 356.50,96.40 C363.55,92.70 372.87,87.82 382.70,86.10 C392.53,84.38 410.03,86.10 415.50,86.10" stroke="#000" stroke-width="0.8" fill="none"/>
<path d="M324.70,114.50 L330.70,143.50 C331.50,143.85 333.88,145.60 335.50,145.60 C337.12,145.60 336.77,145.58 340.40,143.50 C344.03,141.42 350.33,136.38 357.30,133.10 C364.27,129.82 372.58,125.67 382.20,123.80 C391.82,121.93 409.53,122.22 415.00,121.90" stroke="#000" stroke-width="0.8" fill="none"/>
<circle cx="324.70" cy="114.50" r="2.3" fill="#000"/>
<circle cx="330.70" cy="143.50" r="2.3" fill="#000"/>
<circle cx="340.40" cy="143.50" r="2.3" fill="#000"/>
<circle cx="357.30" cy="133.10" r="2.3" fill="#000"/>
<circle cx="382.20" cy="123.80" r="2.3" fill="#000"/>
<circle cx="415.00" cy="121.90" r="2.3" fill="#000"/>
<circle cx="327.60" cy="114.50" r="2.3" fill="#fff" stroke="#000" stroke-width="0.9"/>
<circle cx="329.50" cy="136.00" r="2.3" fill="#fff" stroke="#000" stroke-width="0.9"/>
<circle cx="340.40" cy="108.30" r="2.3" fill="#fff" stroke="#000" stroke-width="0.9"/>
<circle cx="356.50" cy="96.40" r="2.3" fill="#fff" stroke="#000" stroke-width="0.9"/>
<circle cx="382.70" cy="86.10" r="2.3" fill="#fff" stroke="#000" stroke-width="0.9"/>
<circle cx="415.50" cy="86.10" r="2.3" fill="#fff" stroke="#000" stroke-width="0.9"/>
<text x="476.50" y="104.90" font-size="5.4" font-weight="bold" textLength="44.50" lengthAdjust="spacingAndGlyphs" fill="#000" stroke="#000" stroke-width="0.4">EBV-B cells / IL-2</text>
<circle cx="470.30" cy="110.80" r="2.3" fill="#000"/>
<text x="476.50" y="113.20" font-size="5.6" font-weight="bold" textLength="27.00" lengthAdjust="spacingAndGlyphs" fill="#000" stroke="#000" stroke-width="0.4">+ peptide</text>
<circle cx="470.30" cy="120.20" r="2.3" fill="#fff" stroke="#000" stroke-width="0.9"/>
<text x="476.50" y="122.60" font-size="5.6" font-weight="bold" textLength="25.00" lengthAdjust="spacingAndGlyphs" fill="#000" stroke="#000" stroke-width="0.4">- peptide</text>
<path d="M325.60,182.70 L329.60,208.50 L339.60,180.80 L353.70,173.80 C358.32,172.12 371.05,163.65 381.40,163.70 C391.75,163.75 410.07,172.37 415.80,174.10" stroke="#000" stroke-width="0.8" fill="none"/>
<path d="M325.60,184.30 L330.30,217.20 C331.58,217.20 333.70,217.20 338.00,217.20 C342.30,217.20 348.56,219.86 356.10,217.20 C363.64,214.54 373.43,204.53 383.25,201.25 C393.07,197.97 409.71,198.12 415.00,197.50" stroke="#000" stroke-width="0.8" fill="none"/>
<circle cx="325.60" cy="184.30" r="2.3" fill="#000"/>
<circle cx="330.30" cy="217.20" r="2.3" fill="#000"/>
<circle cx="338.00" cy="217.20" r="2.3" fill="#000"/>
<circle cx="356.10" cy="217.20" r="2.3" fill="#000"/>
<circle cx="383.25" cy="201.25" r="2.3" fill="#000"/>
<circle cx="415.00" cy="197.50" r="2.3" fill="#000"/>
<rect x="323.30" y="180.40" width="4.60" height="4.60" fill="#fff" stroke="#000" stroke-width="0.9"/>
<rect x="327.30" y="206.20" width="4.60" height="4.60" fill="#fff" stroke="#000" stroke-width="0.9"/>
<rect x="337.30" y="178.50" width="4.60" height="4.60" fill="#fff" stroke="#000" stroke-width="0.9"/>
<rect x="351.40" y="171.50" width="4.60" height="4.60" fill="#fff" stroke="#000" stroke-width="0.9"/>
<rect x="379.10" y="161.40" width="4.60" height="4.60" fill="#fff" stroke="#000" stroke-width="0.9"/>
<rect x="413.50" y="171.80" width="4.60" height="4.60" fill="#fff" stroke="#000" stroke-width="0.9"/>
<circle cx="325.60" cy="184.60" r="2.0" fill="#000"/>
<circle cx="470.30" cy="181.60" r="2.3" fill="#000"/>
<text x="476.50" y="184.00" font-size="5.4" font-weight="bold" textLength="41.50" lengthAdjust="spacingAndGlyphs" fill="#000" stroke="#000" stroke-width="0.4">CD3/CD28 / IL-2</text>
<rect x="468.40" y="189.10" width="3.80" height="3.80" fill="#fff" stroke="#000" stroke-width="0.9"/>
<text x="476.50" y="193.20" font-size="5.4" font-weight="bold" textLength="9.90" lengthAdjust="spacingAndGlyphs" fill="#000" stroke="#000" stroke-width="0.4">IL-2</text>
<text x="1.00" y="206.80" font-size="14.5" font-weight="bold" textLength="10.50" lengthAdjust="spacingAndGlyphs" fill="#000" stroke="#000" stroke-width="0.4">C</text>
<text x="-0.50" y="221.80" font-size="6.2" font-weight="bold" textLength="17.00" lengthAdjust="spacingAndGlyphs" fill="#000" stroke="#000" stroke-width="0.4">clone</text>
<text x="-0.50" y="230.20" font-size="6.2" font-weight="bold" textLength="25.50" lengthAdjust="spacingAndGlyphs" fill="#000" stroke="#000" stroke-width="0.4">DIPE6/8</text>
<line x1="51.90" y1="211.00" x2="51.90" y2="281.10" stroke="#333" stroke-width="0.8"/>
<line x1="51.90" y1="281.10" x2="201.10" y2="281.10" stroke="#000" stroke-width="0.8"/>
<line x1="50.60" y1="277.90" x2="51.90" y2="277.90" stroke="#000" stroke-width="0.5"/>
<text x="49.30" y="279.50" font-size="4.5" text-anchor="end" fill="#000" stroke="#000" stroke-width="0.12">0</text>
<line x1="50.60" y1="266.04" x2="51.90" y2="266.04" stroke="#000" stroke-width="0.5"/>
<text x="49.30" y="267.64" font-size="4.5" text-anchor="end" fill="#000" stroke="#000" stroke-width="0.12">100</text>
<line x1="50.60" y1="254.18" x2="51.90" y2="254.18" stroke="#000" stroke-width="0.5"/>
<text x="49.30" y="255.78" font-size="4.5" text-anchor="end" fill="#000" stroke="#000" stroke-width="0.12">200</text>
<line x1="50.60" y1="242.32" x2="51.90" y2="242.32" stroke="#000" stroke-width="0.5"/>
<text x="49.30" y="243.92" font-size="4.5" text-anchor="end" fill="#000" stroke="#000" stroke-width="0.12">300</text>
<line x1="50.60" y1="230.46" x2="51.90" y2="230.46" stroke="#000" stroke-width="0.5"/>
<text x="49.30" y="232.06" font-size="4.5" text-anchor="end" fill="#000" stroke="#000" stroke-width="0.12">400</text>
<line x1="50.60" y1="218.60" x2="51.90" y2="218.60" stroke="#000" stroke-width="0.5"/>
<text x="49.30" y="220.20" font-size="4.5" text-anchor="end" fill="#000" stroke="#000" stroke-width="0.12">500</text>
<line x1="51.20" y1="271.97" x2="51.90" y2="271.97" stroke="#000" stroke-width="0.4"/>
<line x1="51.20" y1="260.11" x2="51.90" y2="260.11" stroke="#000" stroke-width="0.4"/>
<line x1="51.20" y1="248.25" x2="51.90" y2="248.25" stroke="#000" stroke-width="0.4"/>
<line x1="51.20" y1="236.39" x2="51.90" y2="236.39" stroke="#000" stroke-width="0.4"/>
<line x1="51.20" y1="224.53" x2="51.90" y2="224.53" stroke="#000" stroke-width="0.4"/>
<line x1="59.40" y1="281.10" x2="59.40" y2="282.40" stroke="#000" stroke-width="0.5"/>
<line x1="69.65" y1="281.10" x2="69.65" y2="281.90" stroke="#000" stroke-width="0.5"/>
<line x1="79.90" y1="281.10" x2="79.90" y2="282.40" stroke="#000" stroke-width="0.5"/>
<line x1="90.15" y1="281.10" x2="90.15" y2="281.90" stroke="#000" stroke-width="0.5"/>
<line x1="100.40" y1="281.10" x2="100.40" y2="282.40" stroke="#000" stroke-width="0.5"/>
<line x1="110.65" y1="281.10" x2="110.65" y2="281.90" stroke="#000" stroke-width="0.5"/>
<line x1="120.90" y1="281.10" x2="120.90" y2="282.40" stroke="#000" stroke-width="0.5"/>
<line x1="131.15" y1="281.10" x2="131.15" y2="281.90" stroke="#000" stroke-width="0.5"/>
<line x1="141.40" y1="281.10" x2="141.40" y2="282.40" stroke="#000" stroke-width="0.5"/>
<line x1="151.65" y1="281.10" x2="151.65" y2="281.90" stroke="#000" stroke-width="0.5"/>
<line x1="161.90" y1="281.10" x2="161.90" y2="282.40" stroke="#000" stroke-width="0.5"/>
<line x1="172.15" y1="281.10" x2="172.15" y2="281.90" stroke="#000" stroke-width="0.5"/>
<line x1="182.40" y1="281.10" x2="182.40" y2="282.40" stroke="#000" stroke-width="0.5"/>
<line x1="192.65" y1="281.10" x2="192.65" y2="281.90" stroke="#000" stroke-width="0.5"/>
<text x="59.40" y="288.80" font-size="5.2" text-anchor="middle" fill="#000" stroke="#000" stroke-width="0.15">0</text>
<text x="79.90" y="288.80" font-size="5.2" text-anchor="middle" fill="#000" stroke="#000" stroke-width="0.15">10</text>
<text x="100.40" y="288.80" font-size="5.2" text-anchor="middle" fill="#000" stroke="#000" stroke-width="0.15">20</text>
<text x="120.90" y="288.80" font-size="5.2" text-anchor="middle" fill="#000" stroke="#000" stroke-width="0.15">30</text>
<text x="141.40" y="288.80" font-size="5.2" text-anchor="middle" fill="#000" stroke="#000" stroke-width="0.15">40</text>
<text x="161.90" y="288.80" font-size="5.2" text-anchor="middle" fill="#000" stroke="#000" stroke-width="0.15">50</text>
<text x="182.40" y="288.80" font-size="5.2" text-anchor="middle" fill="#000" stroke="#000" stroke-width="0.15">60</text>
<text x="37.90" y="263.00" font-size="6.8" textLength="37.20" lengthAdjust="spacingAndGlyphs" transform="rotate(-90 37.90 263.00)" fill="#000" stroke="#000" stroke-width="0.2">CD45RA MFI</text>
<text x="82.70" y="295.80" font-size="6.4" textLength="63.00" lengthAdjust="spacingAndGlyphs" fill="#000" stroke="#000" stroke-width="0.2">days after stimulation</text>
<path d="M59.90,276.30 C62.13,276.22 68.47,277.77 73.30,275.80 C78.13,273.83 81.55,267.98 88.90,264.50 C96.25,261.02 107.93,255.63 117.40,254.90 C126.87,254.17 135.68,260.70 145.70,260.10 C155.72,259.50 172.20,252.77 177.50,251.30" stroke="#000" stroke-width="0.8" fill="none"/>
<circle cx="59.90" cy="276.30" r="2.7" fill="#000"/>
<circle cx="73.30" cy="275.80" r="2.7" fill="#000"/>
<circle cx="88.90" cy="264.50" r="2.7" fill="#000"/>
<circle cx="117.40" cy="254.90" r="2.7" fill="#000"/>
<circle cx="145.70" cy="260.10" r="2.7" fill="#000"/>
<circle cx="177.50" cy="251.30" r="2.7" fill="#000"/>
<circle cx="205.00" cy="225.10" r="2.3" fill="#000"/>
<text x="211.20" y="226.90" font-size="5.6" font-weight="bold" textLength="43.80" lengthAdjust="spacingAndGlyphs" fill="#000" stroke="#000" stroke-width="0.4">EBV-B cells / IL-2</text>
<text x="211.20" y="235.00" font-size="5.6" font-weight="bold" textLength="26.10" lengthAdjust="spacingAndGlyphs" fill="#000" stroke="#000" stroke-width="0.4">+ peptide</text>
</svg>
</body></html>
